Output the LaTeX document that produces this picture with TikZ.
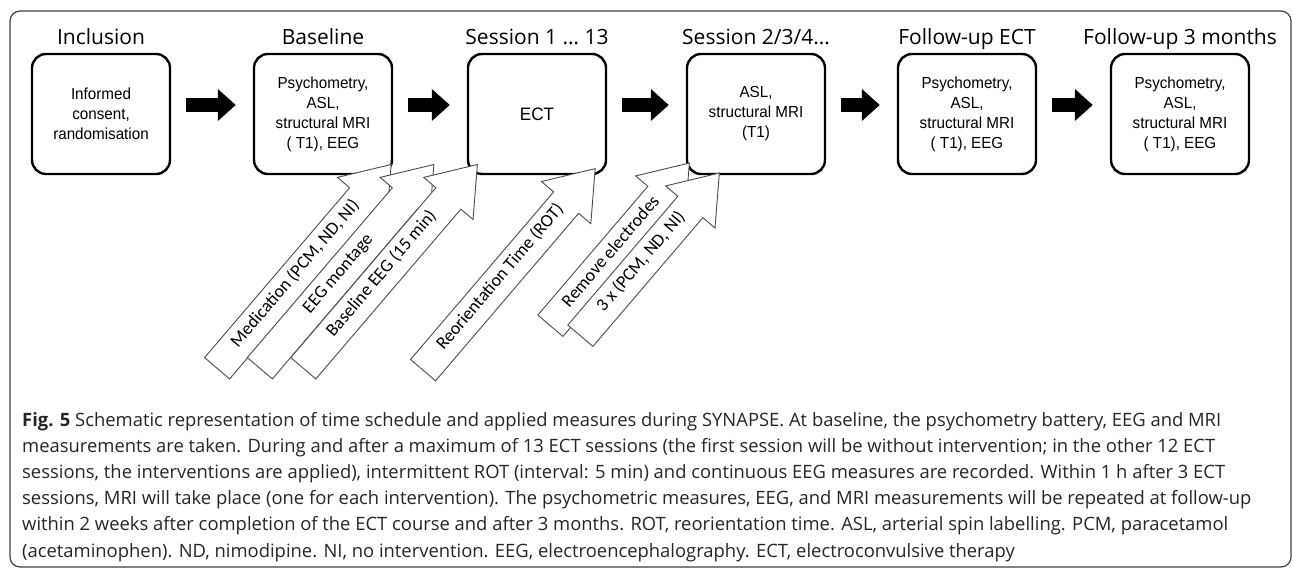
\documentclass[tikz,border=0pt]{standalone}
\usepackage{fontspec}
\setmainfont{Open Sans}
\newfontfamily\boxfont[FakeStretch=0.95]{Liberation Sans}
\newfontfamily\notefont{Carlito}
\usetikzlibrary{shapes.arrows,arrows.meta}

\begin{document}
\begin{tikzpicture}[x=1pt, y=-1pt,
  stage/.style={draw, line width=2.4pt, rounded corners=14pt, minimum width=138pt, minimum height=120pt, align=center, font=\boxfont\fontsize{16}{20}\selectfont},
  title/.style={anchor=base, font=\fontsize{21}{24}\selectfont},
  fat/.style={line width=14pt, -{Triangle[length=18pt, width=31pt]}, shorten <=15pt, shorten >=17pt},
  hollow/.style={shape=single arrow, draw=black!70, line width=0.9pt, fill=white, rotate=49.5, single arrow head extend=16pt, single arrow tip angle=72, text height=10pt, text depth=4pt, inner ysep=9pt, inner xsep=0pt, font=\notefont\fontsize{18}{20}\selectfont}]
  \useasboundingbox (0,0) rectangle (1293,569);
  \draw[rounded corners=10pt, black!75, line width=1.2pt] (10,11) rectangle (1291,567);

  % Stufen
  \node[stage] (incl) at (101,114) {Informed\\consent,\\randomisation};
  \node[stage] (base) at (323,114) {Psychometry,\\ASL,\\structural MRI\\( T1), EEG};
  \node[stage, font=\boxfont\fontsize{18}{20}\selectfont] (ect) at (537,114) {ECT};
  \node[stage] (sess) at (756,114) {ASL,\\structural MRI\\(T1)};
  \node[stage] (fuect) at (967,114) {Psychometry,\\ASL,\\structural MRI\\( T1), EEG};
  \node[stage] (fu3) at (1180,114) {Psychometry,\\ASL,\\structural MRI\\( T1), EEG};

  \coordinate (top) at (0,45);
  \node[title] (tincl) at (incl |- top) {Inclusion};
  \node[title] (tbase) at (base |- top) {Baseline};
  \node[title] (tect) at (ect |- top) {Session 1 … 13};
  \node[title] (tsess) at (sess |- top) {Session 2/3/4…};
  \node[title] (tfuect) at (fuect |- top) {Follow-up ECT};
  \node[title] (tfu3) at (fu3 |- top) {Follow-up 3 months};

  \foreach \a/\b in {incl/base, base/ect, ect/sess, sess/fuect, fuect/fu3}
    \draw[fat] ([yshift=9pt]\a.east) -- ([yshift=9pt]\b.west);

  % Messungen
  \node[hollow, minimum height=268pt] (med) at (296.75,275) {Medication (PCM, ND, NI)};
  \node[hollow, minimum height=268pt] (mont) at (339.5,275) {EEG montage};
  \node[hollow, minimum height=268pt] (beeg) at (383,275) {Baseline EEG (15 min)};
  \node[hollow, minimum height=265pt] (rot) at (501.75,278) {Reorientation Time (ROT)};
  \node[hollow, minimum height=214pt] (remove) at (612.5,253) {Remove electrodes};
  \node[hollow, minimum height=214pt] (thrice) at (642.5,263) {3 x (PCM, ND, NI)};

  \node[anchor=base west, align=left, inner sep=0pt, text=black!85, font=\fontsize{18.4}{26.2}\selectfont] (caption) at (22,557)
    {\textbf{Fig. 5} Schematic representation of time schedule and applied measures during SYNAPSE. At baseline, the psychometry battery, EEG and MRI\\
     measurements are taken. During and after a maximum of 13 ECT sessions (the first session will be without intervention; in the other 12 ECT\\
     sessions, the interventions are applied), intermittent ROT (interval: 5 min) and continuous EEG measures are recorded. Within 1 h after 3 ECT\\
     sessions, MRI will take place (one for each intervention). The psychometric measures, EEG, and MRI measurements will be repeated at follow-up\\
     within 2 weeks after completion of the ECT course and after 3 months. ROT, reorientation time. ASL, arterial spin labelling. PCM, paracetamol\\
     (acetaminophen). ND, nimodipine. NI, no intervention. EEG, electroencephalography. ECT, electroconvulsive therapy};
\end{tikzpicture}
\end{document}
